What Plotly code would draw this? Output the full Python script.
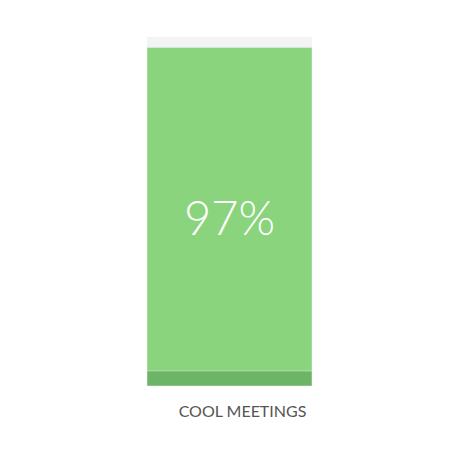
import plotly.graph_objects as go

categories = ["COOL MEETINGS"]
values = [97]
track_max = [100]
base_band = [4.3]
labels = ["97%"]

fig = go.Figure()
fig.add_trace(go.Bar(x=categories, y=track_max, marker_color="#f4f4f4", width=1,
                     hoverinfo="skip", showlegend=False))
fig.add_trace(go.Bar(x=categories, y=values, marker_color="#89d47c", width=1,
                     text=labels, textposition="inside", insidetextanchor="middle",
                     textfont=dict(family="Lato", size=47, color="white", weight=300),
                     showlegend=False))
fig.add_trace(go.Bar(x=categories, y=base_band, marker_color="#6cb466", width=1,
                     hoverinfo="skip", showlegend=False))

fig.update_layout(
    width=460, height=459,
    margin=dict(l=147, r=148, t=37, b=73),
    barmode="overlay",
    barcornerradius=3,
    paper_bgcolor="white", plot_bgcolor="white",
    xaxis=dict(range=[-0.5, 0.5], showgrid=False, zeroline=False, showline=False,
               tickfont=dict(family="Lato", size=16, color="#555555"),
               ticks="", ticklabelshift=13, ticklabelstandoff=14),
    yaxis=dict(range=[0, 100], visible=False),
)
fig.write_html("out.html")
